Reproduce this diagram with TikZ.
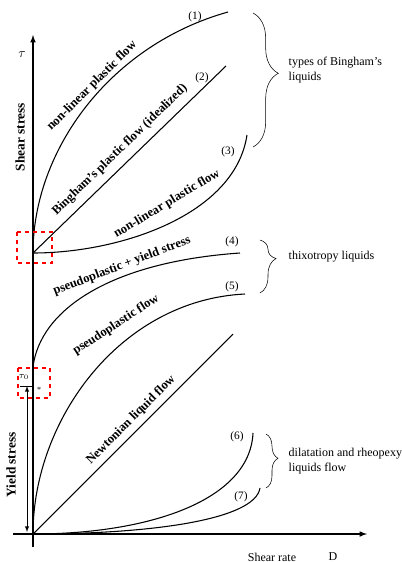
\documentclass[tikz,border=0pt]{standalone}
\usepackage{fontspec}
\setmainfont{Liberation Serif}
\usetikzlibrary{decorations.pathreplacing}

\begin{document}
\begin{tikzpicture}[x=0.75pt,y=-0.75pt,
  curvelabel/.style={font=\fontsize{9.5}{11}\selectfont\bfseries},
  axislabel/.style={font=\fontsize{10}{12}\selectfont\bfseries,rotate=90},
  numlabel/.style={font=\fontsize{8.5}{10}\selectfont},
  grouptext/.style={font=\fontsize{9}{11}\selectfont,align=left,anchor=west},
  groupbrace/.style={decorate,decoration={brace,amplitude=#1,aspect=0.45}},
  flow/.style={line width=0.8pt}]
\useasboundingbox (0,0) rectangle (401,562);
% axes
\coordinate (O) at (33,534);
\coordinate (Y) at (33,253);
\coordinate (ybot) at (33,547);
\coordinate (ytop) at (33,35);
\coordinate (xleft) at (13,534);
\coordinate (xright) at (367,534);
\draw [line width=0.9pt,-latex] (ybot) -- (ytop);
\draw [line width=0.9pt,-latex] (xleft) -- (xright);
\node (tau) at (22,55) {$\tau$};
\node [axislabel] (shear) at (20,137) {Shear stress};
\node [axislabel] (yield) at (11,465) {Yield stress};
\node [font=\fontsize{9}{11}\selectfont] (rate) at (272,557) {Shear rate};
\node [font=\fontsize{9}{11}\selectfont] (D) at (333,557) {D};
% yield stress marker
\coordinate (ys top) at (27,386);
\coordinate (ys bot) at (27,532);
\coordinate (tick l) at (20,386);
\coordinate (tick r) at (33,386);
\draw [latex-latex,line width=0.5pt] (ys top) -- (ys bot);
\draw [line width=0.5pt] (tick l) -- (tick r);
\node [font=\fontsize{7}{8}\selectfont,inner sep=0pt] (tau0) at (24,377) {$\tau_0$};
\node [font=\fontsize{6}{7}\selectfont,inner sep=0pt] (star) at (39,390) {*};
% curves with yield stress
\coordinate (e1) at (228,12);
\coordinate (e2) at (226,66);
\coordinate (e3) at (247,135);
\draw [flow] (Y) .. controls (33,150) and (110,45) .. (e1);
\draw [flow] (Y) -- (e2);
\draw [flow] (Y) .. controls (120,253) and (235,215) .. (e3);
\coordinate (s4) at (33,367);
\coordinate (e4) at (240,253);
\draw [flow] (s4) .. controls (40,310) and (110,262) .. (e4);
% curves from origin
\coordinate (e5) at (245,294);
\coordinate (eN) at (233,334);
\coordinate (e6) at (253,433);
\coordinate (e7) at (260,488);
\draw [flow] (O) .. controls (33,420) and (120,300) .. (e5);
\draw [flow] (O) -- (eN);
\draw [flow] (O) .. controls (150,534) and (250,500) .. (e6);
\draw [flow] (O) .. controls (150,534) and (255,520) .. (e7);
% numbers
\node [numlabel] (n1) at (195,17) {(1)};
\node [numlabel] (n2) at (202,78) {(2)};
\node [numlabel] (n3) at (228,152) {(3)};
\node [numlabel] (n4) at (232,242) {(4)};
\node [numlabel] (n5) at (232,287) {(5)};
\node [numlabel] (n6) at (237,437) {(6)};
\node [numlabel] (n7) at (241,497) {(7)};
% names of the flows
\node [curvelabel,rotate=45] (l1) at (92,86) {non-linear plastic flow};
\node [curvelabel,rotate=44] (l2) at (120,150) {Bingham's plastic flow (idealized)};
\node [curvelabel,rotate=31] (l3) at (167,204) {non-linear plastic flow};
\node [curvelabel,rotate=21] (l4) at (122,266) {pseudoplastic + yield stress};
\node [curvelabel,rotate=33] (l5) at (116,325) {pseudoplastic flow};
\node [curvelabel,rotate=45] (lN) at (131,420) {Newtonian liquid flow};
% groups
\coordinate (b1 top) at (253,13);
\coordinate (b1 bot) at (253,147);
\coordinate (b2 top) at (260,240);
\coordinate (b2 bot) at (260,293);
\coordinate (b3 top) at (266,434);
\coordinate (b3 bot) at (266,488);
\draw [groupbrace=19pt] (b1 top) -- (b1 bot);
\draw [groupbrace=12pt,decoration={aspect=0.35}] (b2 top) -- (b2 bot);
\draw [groupbrace=9pt] (b3 top) -- (b3 bot);
\node [grouptext] (g1) at (284,70) {types of Bingham's\\liquids};
\node [grouptext] (g2) at (284,257) {thixotropy liquids};
\node [grouptext] (g3) at (284,461) {dilatation and rheopexy\\liquids flow};
% marked regions
\coordinate (r1a) at (17,232);
\coordinate (r1b) at (52,263);
\coordinate (r2a) at (18,368);
\coordinate (r2b) at (50,398);
\draw [red,dashed,thick] (r1a) rectangle (r1b);
\draw [red,dashed,thick] (r2a) rectangle (r2b);
\end{tikzpicture}
\end{document}
